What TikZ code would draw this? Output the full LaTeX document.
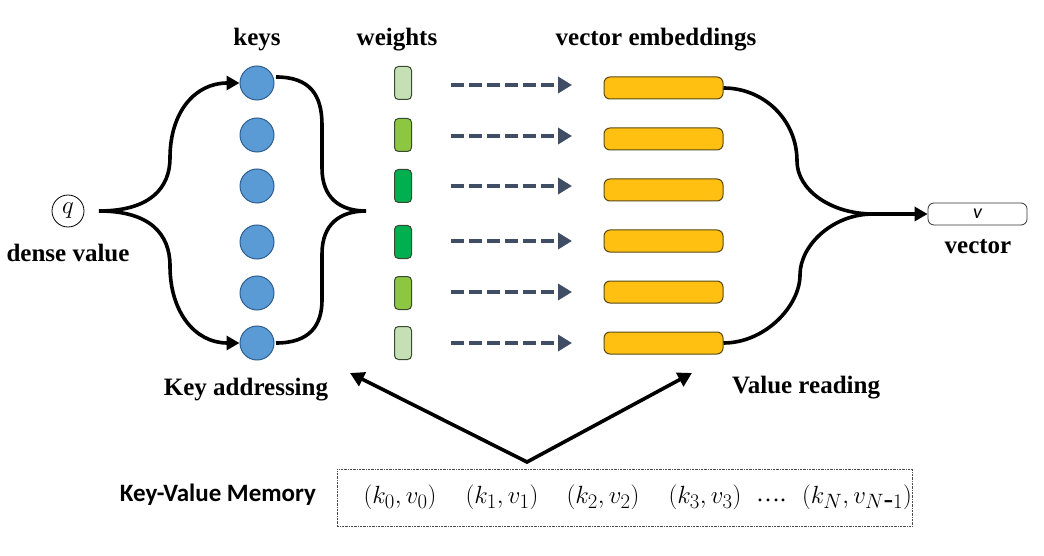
\documentclass[tikz,border=0pt]{standalone}
\usepackage{fontspec}
\setmainfont{Liberation Serif}
\newfontfamily\calib{Carlito}
\usetikzlibrary{arrows.meta,calc}
\definecolor{keyblue}{HTML}{5B9BD5}
\definecolor{keyedge}{HTML}{2F5F8F}
\definecolor{wlight}{HTML}{C5E0B4}
\definecolor{wmid}{HTML}{8DC641}
\definecolor{wdark}{HTML}{00B050}
\definecolor{wedge}{HTML}{3A4A30}
\definecolor{emb}{HTML}{FFC012}
\definecolor{eedge}{HTML}{5A4A10}
\definecolor{slate}{HTML}{3F4E64}
\begin{document}
\begin{tikzpicture}[x=1pt,y=-1pt,
  lbl/.style={font=\fontsize{25}{30}\selectfont\bfseries,inner sep=0},
  keynode/.style={circle,fill=keyblue,draw=keyedge,line width=1pt,minimum size=34pt,inner sep=0},
  wnode/.style={rounded corners=4pt,draw=wedge,line width=1pt,minimum width=17pt,minimum height=33pt,inner sep=0},
  enode/.style={rounded corners=6pt,draw=eedge,fill=emb,line width=1pt,minimum width=119pt,minimum height=22pt,inner sep=0},
  bline/.style={line width=3.6pt,draw=black},
  barrow/.style={line width=3.6pt,draw=black,-{Triangle[length=13pt,width=14pt]}},
  darr/.style={draw=slate,line width=4.4pt,dash pattern=on 13pt off 5pt,-{Triangle[length=14pt,width=16pt]},shorten <=39pt,shorten >=32pt},
  mem/.style={font=\fontsize{29}{32}\selectfont,inner sep=0},
]
\useasboundingbox (0,0) rectangle (1044,556);
\fill[white] (0,0) rectangle (1044,556);

% query
\node[circle,draw=black,line width=0.8pt,minimum size=32pt,inner sep=0,font=\fontsize{25}{27}\selectfont] (q) at (68,211) {$q$};
\node[lbl] (dv) at (68,253) {dense value};

% keys
\node[lbl] (keyslbl) at (257,40) {keys};
\foreach \i/\y in {1/83,2/135,3/186,4/242,5/293,6/343}{
  \node[keynode] (k\i) at (257,\y) {};
}

% weights
\node[lbl] (wlbl) at (397,40) {weights};
\node[wnode,fill=wlight] (w1) at (403,83) {};
\node[wnode,fill=wmid]   (w2) at (403,135) {};
\node[wnode,fill=wdark]  (w3) at (403,186) {};
\node[wnode,fill=wdark]  (w4) at (403,242) {};
\node[wnode,fill=wmid]   (w5) at (403,293) {};
\node[wnode,fill=wlight] (w6) at (403,343) {};

% embeddings
\node[lbl] (elbl) at (656,40) {vector embeddings};
\foreach \i/\y in {1/88,2/139,3/190,4/241,5/292,6/343}{
  \node[enode] (e\i) at (663.5,\y) {};
}

% dashed arrows
\foreach \i/\y in {1/85,2/136,3/186,4/241,5/292,6/343}{
  \coordinate (da\i) at (412,\y);
  \coordinate (db\i) at (604,\y);
  \draw[darr] (da\i) -- (db\i);
}

% left brace
\coordinate (lb) at (99,211);
\draw[barrow] (lb) .. controls (150,211) and (170,188) .. (170,158)
   .. controls (170,112) and (195,83) .. (k1.west);
\draw[barrow] (lb) .. controls (150,211) and (170,234) .. (170,266)
   .. controls (170,312) and (195,343) .. (k6.west);

% right brace
\coordinate (rb1) at (276,77);
\coordinate (rb6) at (276,343);
\coordinate (rbt) at (366,211);
\draw[bline] (rb1) .. controls (310,77) and (322,95) .. (322,125) -- (322,168)
   .. controls (322,198) and (340,211) .. (rbt);
\draw[bline] (rb6) .. controls (310,343) and (322,325) .. (322,300) -- (322,254)
   .. controls (322,224) and (340,211) .. (rbt);

% merge
\coordinate (mg) at (873,214);
\draw[bline] (e1.east) .. controls (764,88) and (797,120) .. (797,161)
   .. controls (797,190) and (831,214) .. (mg);
\draw[bline] (e6.east) .. controls (765,343) and (800,306) .. (800,275)
   .. controls (800,245) and (833,214) .. (mg);
\node[rounded corners=6pt,draw=black!80,line width=0.8pt,minimum width=99pt,minimum height=22pt,inner sep=0,font=\fontsize{20}{21}\selectfont] (vbox) at (977.5,214) {\calib\itshape v};
\draw[barrow] (mg) -- (vbox.west);
\node[lbl] (vlbl) at (978,247) {vector};

% labels
\node[lbl] (ka) at (246,390) {Key addressing};
\node[lbl] (vr) at (806,388) {Value reading};

% memory box
\node[draw=black!70,line width=0.8pt,dash pattern=on 2pt off 1pt on 0.5pt off 1pt,minimum width=575pt,minimum height=57pt,inner sep=0] (membox) at (624.5,497.5) {};
\node[font=\calib\bfseries\fontsize{25}{30}\selectfont,inner sep=0] (kvm) at (218,495) {Key-Value Memory};
\node[mem] (m0) at (400,497) {$(k_0,v_0)$};
\node[mem] (m1) at (502,497) {$(k_1,v_1)$};
\node[mem] (m2) at (603,497) {$(k_2,v_2)$};
\node[mem] (m3) at (705,497) {$(k_3,v_3)$};
\node[mem,font=\fontsize{24}{28}\selectfont] (m4) at (771,500) {\ldots.};
\node[mem] (m5) at (857,497) {$(k_N,v_{N\mbox{-}1})$};

% V arrows
\coordinate (apex) at (527,462);
\coordinate (kat) at (350,373);
\coordinate (vrt) at (692,373);
\draw[line width=3.6pt,{Triangle[length=14pt,width=15pt]}-{Triangle[length=14pt,width=15pt]},line join=miter] (kat) -- (apex) -- (vrt);
\end{tikzpicture}
\end{document}
